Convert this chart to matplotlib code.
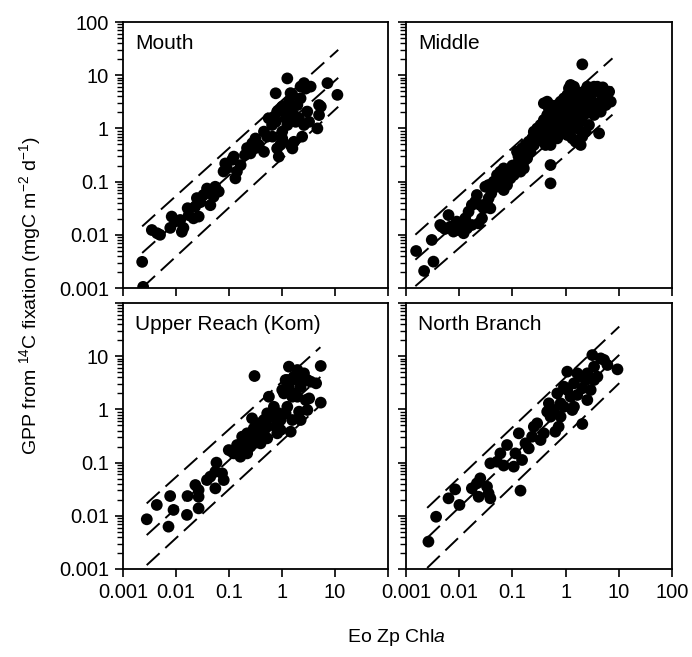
import numpy as np
import matplotlib.pyplot as plt
from matplotlib.ticker import NullFormatter, LogLocator

plt.rcParams['font.family'] = 'Liberation Sans'
plt.rcParams['mathtext.fontset'] = 'custom'
plt.rcParams['mathtext.rm'] = 'Liberation Sans'
plt.rcParams['mathtext.it'] = 'Liberation Sans:italic'

# --- data (Eo Zp Chla vs GPP) ---
mouth_x = [0.0023, 0.0024, 0.0035, 0.0044, 0.005, 0.0078, 0.0083, 0.012, 0.0138, 0.0129,
           0.0174, 0.0166, 0.023, 0.0248, 0.0288, 0.0268, 0.0214, 0.0385, 0.0445, 0.055,
           0.064, 0.051, 0.091, 0.085, 0.115, 0.132, 0.141, 0.166, 0.123, 0.219,
           0.254, 0.275, 0.316, 0.363, 0.457, 0.457, 0.525, 0.66, 0.71, 0.76,
           0.81, 0.87, 0.93, 1.01, 0.76, 0.81, 1.01, 1.17, 1.26, 1.35,
           1.45, 1.57, 1.68, 1.81, 1.95, 2.09, 2.24, 2.24, 2.4, 2.6,
           2.8, 3.0, 3.24, 3.47, 1.57, 1.45, 1.68, 4.65, 5.0, 5.4,
           7.2, 11.1, 1.17, 1.26, 1.01, 1.45, 5.0, 2.6, 0.20, 0.316,
           0.56, 0.65, 0.079, 0.033, 0.0097]
mouth_y = [0.0031, 0.00105, 0.0123, 0.0107, 0.010, 0.0135, 0.022, 0.019, 0.0135, 0.0114,
           0.0234, 0.0316, 0.034, 0.049, 0.041, 0.022, 0.0204, 0.074, 0.036, 0.080,
           0.065, 0.052, 0.178, 0.219, 0.257, 0.115, 0.155, 0.204, 0.295, 0.427,
           0.339, 0.525, 0.646, 0.49, 0.363, 0.87, 0.70, 0.70, 1.66, 1.33,
           0.42, 0.295, 0.49, 0.646, 4.57, 2.07, 2.57, 1.55, 8.7, 3.16,
           2.4, 4.27, 1.78, 1.33, 2.75, 1.55, 3.67, 6.1, 0.70, 1.16,
           5.6, 2.07, 1.33, 6.1, 0.42, 0.49, 0.56, 1.0, 1.78, 2.57,
           7.1, 4.27, 2.24, 1.16, 0.87, 4.6, 2.75, 7.1, 0.316, 0.427,
           1.55, 1.16, 0.155, 0.056, 0.0178]

middle_x = [2.06, 0.00155, 0.00219, 0.00328, 0.00305, 0.0063, 0.0047, 0.0044, 0.0054, 0.0068,
            0.0078, 0.0097, 0.0121, 0.0112, 0.0090, 0.0130, 0.0150, 0.0173, 0.0200, 0.0215,
            0.0249, 0.0288, 0.0333, 0.0357, 0.0385, 0.0268, 0.0232, 0.0173, 0.0140, 0.031,
            0.0357, 0.0445, 0.0514, 0.0594, 0.0686, 0.0793, 0.0916, 0.0514, 0.0686, 0.0793,
            0.106, 0.114, 0.132, 0.142, 0.122, 0.152, 0.176, 0.203, 0.235, 0.253,
            0.292, 0.272, 0.189, 0.164, 0.142, 0.0986, 0.338, 0.390, 0.451, 0.485,
            0.521, 0.603, 0.697, 0.805, 0.931, 1.075, 1.156, 1.336, 1.436, 1.545,
            1.66, 1.92, 2.22, 2.56, 2.96, 3.43, 3.96, 4.57, 5.28, 6.11,
            7.06, 5.69, 4.57, 3.96, 3.18, 2.56, 2.22, 1.92, 1.66, 1.436,
            1.242, 1.075, 0.931, 0.805, 0.697, 0.603, 0.521, 0.451, 0.420, 0.521,
            0.697, 1.075, 1.336, 1.545, 1.92, 2.38, 2.75, 3.43, 4.26, 2.06,
            0.390, 0.451, 1.242, 2.22, 2.56, 0.521, 0.521, 4.92, 6.58, 0.253,
            0.315, 0.219, 0.697, 1.436, 0.805, 1.0, 1.92, 2.96,
            0.04, 0.06, 0.075, 0.09, 0.10, 0.12, 0.13, 0.16, 0.17, 0.20,
            0.22, 0.26, 0.30, 0.33, 0.36, 0.40, 0.45, 0.55, 0.60, 0.65,
            0.75, 0.85, 0.90, 1.1, 1.2, 1.3, 1.5, 1.7, 1.8, 2.4,
            2.7, 3.2, 3.6, 4.2, 5.0, 1.2, 0.8, 0.38]
middle_y = [16.0, 0.00496, 0.00209, 0.00313, 0.0080, 0.0235, 0.0142, 0.0153, 0.0129, 0.0142,
            0.0115, 0.0123, 0.0107, 0.0153, 0.0177, 0.0204, 0.0272, 0.0363, 0.042, 0.056,
            0.0363, 0.0314, 0.039, 0.0485, 0.0314, 0.0204, 0.0164, 0.0153, 0.0132, 0.0803,
            0.0863, 0.0998, 0.133, 0.154, 0.177, 0.143, 0.115, 0.0803, 0.0695, 0.0863,
            0.133, 0.205, 0.237, 0.294, 0.365, 0.422, 0.488, 0.563, 0.650, 0.868,
            1.00, 0.70, 0.274, 0.177, 0.154, 0.165, 1.16, 1.44, 1.79, 2.38,
            2.75, 2.06, 2.75, 3.18, 3.67, 4.24, 5.66, 4.56, 6.08, 2.75,
            2.06, 2.75, 3.18, 4.24, 5.66, 6.08, 6.08, 5.66, 4.90, 3.67,
            3.18, 2.75, 2.06, 2.38, 3.18, 2.38, 1.79, 1.34, 1.00, 1.16,
            1.55, 1.16, 1.79, 2.06, 1.34, 1.00, 0.752, 0.605, 0.488, 0.488,
            0.65, 0.752, 0.650, 0.563, 0.488, 0.868, 1.16, 1.79, 0.807, 0.70,
            2.96, 3.18, 6.55, 4.90, 6.08, 0.205, 0.0927, 3.67, 4.90, 0.488,
            0.752, 0.365, 1.79, 2.38, 1.34, 2.75, 4.24, 2.75,
            0.06, 0.11, 0.12, 0.14, 0.20, 0.17, 0.30, 0.33, 0.25, 0.40,
            0.50, 0.55, 0.80, 0.60, 0.90, 1.2, 1.0, 1.5, 1.3, 2.4,
            2.4, 1.6, 3.0, 2.0, 3.5, 2.5, 3.5, 4.8, 1.5, 5.2,
            3.6, 4.6, 2.8, 5.2, 5.9, 0.9, 0.9, 0.7]

upper_x = [0.303, 0.00281, 0.00434, 0.00722, 0.00776, 0.00898, 0.0161, 0.0165, 0.0232, 0.0267,
           0.0267, 0.0267, 0.0384, 0.0444, 0.0553, 0.058, 0.0553, 0.0795, 0.0739, 0.099,
           0.123, 0.142, 0.164, 0.177, 0.206, 0.220, 0.272, 0.254, 0.294, 0.340,
           0.37, 0.394, 0.455, 0.526, 0.566, 0.608, 0.703, 0.76, 0.813, 0.875,
           0.940, 1.01, 1.088, 1.17, 1.26, 1.35, 1.46, 1.56, 1.68, 1.81,
           1.95, 2.1, 2.25, 2.60, 2.80, 3.01, 3.25, 3.48, 5.38, 5.38,
           1.56, 1.35, 0.94, 0.526, 0.164, 0.22, 0.526, 1.95, 4.4, 2.25,
           0.114, 0.153, 0.190, 0.237, 0.294, 0.34, 0.455, 0.655, 1.17, 1.26,
           2.25, 1.95, 3.01]
upper_y = [4.24, 0.0086, 0.0160, 0.00625, 0.0235, 0.0129, 0.0104, 0.0235, 0.0379, 0.0138,
           0.0228, 0.0305, 0.047, 0.0544, 0.0328, 0.0998, 0.0676, 0.047, 0.0629, 0.172,
           0.149, 0.214, 0.129, 0.307, 0.247, 0.355, 0.679, 0.20, 0.44, 0.307,
           0.547, 0.23, 0.381, 0.473, 1.73, 0.73, 1.12, 0.473, 0.355, 0.843,
           0.632, 2.32, 2.0, 3.57, 1.12, 6.36, 0.381, 0.632, 4.12, 2.0,
           3.57, 0.906, 2.67, 4.76, 1.50, 0.975, 1.61, 3.32, 6.55, 1.34,
           1.73, 2.67, 0.41, 0.286, 0.20, 0.149, 0.843, 5.5, 3.09, 0.632,
           0.161, 0.149, 0.185, 0.266, 0.23, 0.473, 0.632, 0.73, 0.843, 3.57,
           4.12, 1.73, 3.57]

north_x = [0.00264, 0.00368, 0.0063, 0.0084, 0.0101, 0.0173, 0.0232, 0.0249, 0.0333, 0.0385,
           0.0357, 0.0385, 0.0514, 0.0686, 0.0793, 0.106, 0.114, 0.132, 0.152, 0.176,
           0.203, 0.142, 0.235, 0.292, 0.338, 0.390, 0.451, 0.485, 0.521, 0.64,
           0.74, 0.697, 0.805, 0.931, 1.075, 1.075, 1.242, 1.336, 1.436, 1.66,
           1.92, 2.06, 2.38, 2.56, 2.96, 3.18, 3.43, 3.96, 4.57, 5.28,
           6.11, 9.44, 2.56, 1.66, 1.436, 0.603, 0.805, 0.253, 0.0594, 0.0215,
           0.931, 2.06, 3.43]
north_y = [0.00327, 0.0096, 0.0213, 0.0314, 0.016, 0.0328, 0.0228, 0.0506, 0.0353, 0.0213,
           0.0264, 0.0969, 0.104, 0.088, 0.214, 0.084, 0.149, 0.355, 0.112, 0.23,
           0.185, 0.0297, 0.307, 0.547, 0.266, 0.355, 0.906, 1.30, 0.73, 0.381,
           0.473, 2.0, 0.73, 1.12, 5.12, 2.32, 1.73, 0.975, 3.09, 1.87,
           4.12, 0.532, 3.57, 1.50, 2.32, 10.5, 6.36, 4.12, 9.1, 8.5,
           6.84, 5.66, 4.76, 4.76, 1.12, 0.975, 1.30, 0.473, 0.149, 0.0407,
           2.67, 2.49, 3.57]

# dashed lines: (slope, log10 intercept) for upper, centre, lower line, and x range
mouth_lines = [(0.897, 0.525), (0.89, 0.007), (0.92, -0.569)]
middle_lines = [(0.895, 0.529), (0.878, 0.011), (0.87, -0.508)]
upper_lines = [(0.896, 0.52), (0.907, -0.047), (0.917, -0.586)]
north_lines = [(0.944, 0.605), (0.953, 0.064), (0.962, -0.477)]
line_xrange = {'Mouth': (0.0023, 11.5), 'Middle': (0.0015, 7.6),
               'Upper Reach (Kom)': (0.0028, 5.3), 'North Branch': (0.0025, 10.2)}

ticks = [0.001, 0.01, 0.1, 1, 10, 100]
tick_labels = ['0.001', '0.01', '0.1', '1', '10', '100']

fig = plt.figure(figsize=(6.92, 6.57), dpi=100)

W, H = 692, 657
def rect(x0, x1, ytop, ybot):
    return [x0 / W, 1 - ybot / H, (x1 - x0) / W, (ybot - ytop) / H]

panels = [
    ('Mouth', mouth_x, mouth_y, mouth_lines, rect(123, 388, 22, 288), 'tl'),
    ('Middle', middle_x, middle_y, middle_lines, rect(406, 672, 22, 288), 'tr'),
    ('Upper Reach (Kom)', upper_x, upper_y, upper_lines, rect(123, 388, 303, 569), 'bl'),
    ('North Branch', north_x, north_y, north_lines, rect(406, 672, 303, 569), 'br'),
]

for name, x, y, lines, r, pos in panels:
    ax = fig.add_axes(r)
    ax.set_xscale('log')
    ax.set_yscale('log')
    ax.set_xlim(1e-3, 1e2)
    ax.set_ylim(1e-3, 1e2)

    ax.scatter(x, y, s=72, c='black', edgecolors='none', zorder=3)

    x0, x1 = line_xrange[name]
    xl = np.array([x0, x1])
    for slope, icpt in lines:
        ax.plot(xl, 10 ** (icpt + slope * np.log10(xl)), color='black', lw=1.4,
                linestyle=(0, (9, 4)), zorder=2)

    ax.text(0.045, 0.955, name, transform=ax.transAxes, ha='left', va='top', fontsize=15)

    for s in ax.spines.values():
        s.set_linewidth(1.3)
    ax.set_xticks(ticks)
    ax.set_yticks(ticks)
    ax.xaxis.set_minor_locator(LogLocator(base=10, subs=np.arange(2, 10)))
    ax.yaxis.set_minor_locator(LogLocator(base=10, subs=np.arange(2, 10)))
    ax.xaxis.set_minor_formatter(NullFormatter())
    ax.yaxis.set_minor_formatter(NullFormatter())
    ax.tick_params(which='major', direction='out', length=6, width=1.2, labelsize=14.5, pad=4)
    ax.tick_params(which='minor', direction='out', length=4, width=1.0)

    if pos == 'tl':
        ax.set_yticklabels(tick_labels)
        ax.set_xticklabels([])
    elif pos == 'bl':
        ax.set_yticklabels(tick_labels[:-1] + [''])
        ax.set_xticklabels(tick_labels[:-1] + [''])
    elif pos == 'tr':
        ax.set_yticklabels([])
        ax.set_xticklabels([])
    else:
        ax.set_yticklabels([])
        ax.set_xticklabels(tick_labels)

fig.text(30 / W, 1 - 296 / H, r'GPP from $^{14}$C fixation (mgC m$^{-2}$ d$^{-1}$)',
         rotation=90, ha='center', va='center', fontsize=14)
fig.text(396 / W, 1 - 637 / H, r'Eo Zp Chl$\mathit{a}$', ha='center', va='center', fontsize=14)

fig.savefig('out.png', dpi=100)
